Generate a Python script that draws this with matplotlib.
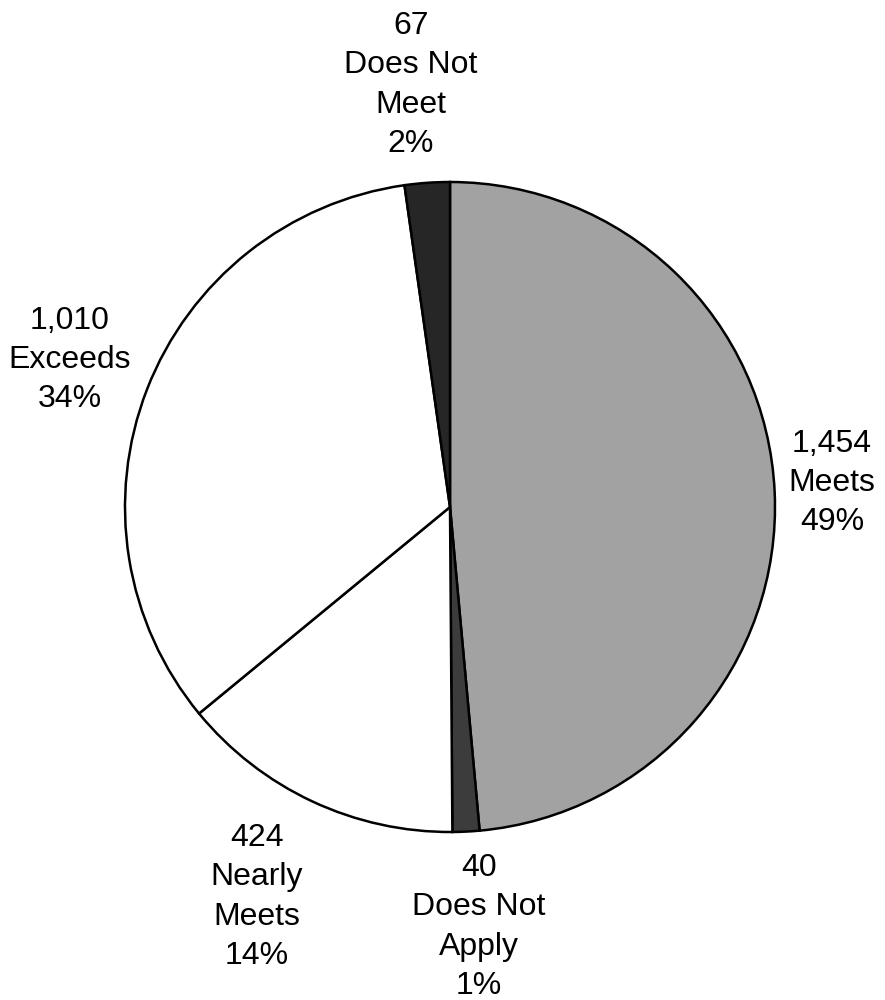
import matplotlib.pyplot as plt

plt.rcParams['font.family'] = ['Liberation Sans', 'DejaVu Sans']

# category counts, clockwise from 12 o'clock
categories = ['Meets', 'Does Not\nApply', 'Nearly\nMeets', 'Exceeds', 'Does Not\nMeet']
counts = [1454, 40, 424, 1010, 67]
colors = ['#a2a2a2', '#3c3c3c', '#ffffff', '#ffffff', '#262626']

# where each label block sits, in pixels from the top-left
label_xy = [(832, 483), (479, 927), (257, 897), (70, 360), (411, 85)]

W, H = 885, 1000
fig = plt.figure(figsize=(W / 100, H / 100), dpi=100)
ax = fig.add_axes([0, 0, 1, 1])

ax.pie(counts, colors=colors, startangle=90, counterclock=False,
       center=(450, H - 507), radius=325,
       wedgeprops={'edgecolor': 'black', 'linewidth': 1.8})

# pie() resets the limits, so pin them to pixel units afterwards
ax.set_xlim(0, W)
ax.set_ylim(0, H)
ax.set_aspect('equal')
ax.axis('off')

total = sum(counts)
for name, n, (px, py) in zip(categories, counts, label_xy):
    pct = round(100 * n / total)
    ax.text(px, H - py, f'{n:,}\n{name}\n{pct}%', ha='center', va='center',
            fontsize=23, linespacing=1.4, color='black')

fig.savefig('out.png', dpi=100)
